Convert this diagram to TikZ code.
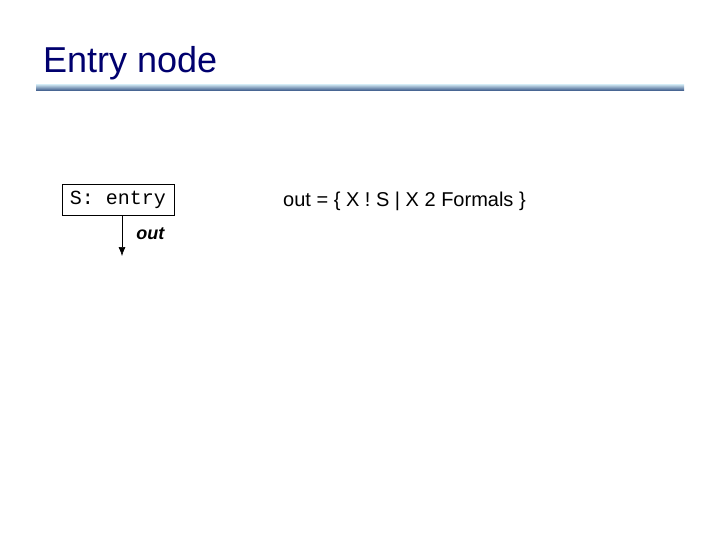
\documentclass[tikz,border=0pt]{standalone}
\usepackage{fontspec}
\setmainfont{Liberation Sans}
\setmonofont{Liberation Mono}
\usepackage{tikz}
\usetikzlibrary{arrows.meta,positioning}
\definecolor{titleblue}{RGB}{0,0,110}
\definecolor{rulelight}{RGB}{190,215,230}
\definecolor{ruledark}{RGB}{50,80,130}

\begin{document}
\begin{tikzpicture}[x=1pt,y=-1pt,
  st/.style={draw,thin,minimum width=112pt,minimum height=31pt,inner sep=0pt,font=\fontsize{20}{22}\selectfont\ttfamily},
  ref/.style={-{Latex[length=9pt,width=7pt]},semithick},
  lab/.style={font=\fontsize{18}{20}\selectfont\bfseries\itshape,inner sep=1pt}]
\useasboundingbox (0,0) rectangle (720,540);
\node[anchor=base west,text=titleblue,font=\fontsize{36}{40}\selectfont,inner sep=0pt] (title) at (43,73) {Entry node};
\shade[top color=rulelight,bottom color=ruledark] (36,85) rectangle (684,91);
\node[st] (entry) at (118,199.5) {S: entry};
\coordinate (outend) at (122,256);
\draw[ref] (entry.south -| outend) -- node[lab,right=13pt,pos=.45] (outlab) {out} (outend);
\node[anchor=base west,font=\fontsize{20}{22}\selectfont,inner sep=0pt] (def) at (283,207) {out = \{ X ! S | X 2 Formals \}};
\end{tikzpicture}
\end{document}
